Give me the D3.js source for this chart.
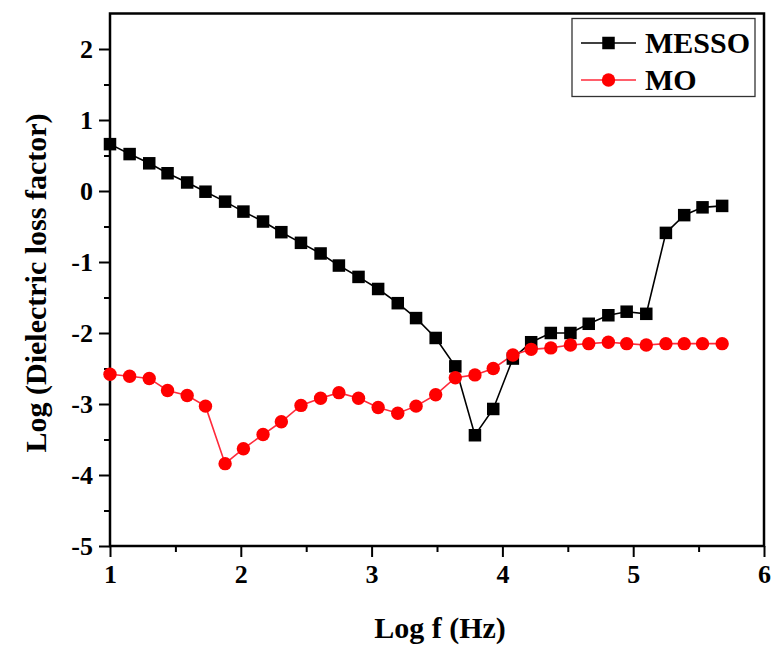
<!DOCTYPE html>
<html>
<head>
<meta charset="utf-8">
<script src="https://cdn.jsdelivr.net/npm/d3@7"></script>
<style>
html,body{margin:0;padding:0;background:#fff;}
svg{display:block;font-family:"Liberation Serif","Times New Roman",serif;font-weight:bold;}
.tick text{font-family:"Liberation Serif","Times New Roman",serif;font-weight:bold;font-size:26px;fill:#000;}
</style>
</head>
<body>
<svg id="chart" width="777" height="647"></svg>
<script>
const logF = [1.00,1.15,1.30,1.44,1.59,1.73,1.88,2.02,2.17,2.31,2.46,2.61,2.75,2.90,3.05,3.20,3.34,3.49,3.64,3.79,3.93,4.08,4.22,4.37,4.52,4.66,4.81,4.95,5.10,5.25,5.39,5.53,5.68];
const messo = [0.66,0.52,0.39,0.25,0.12,-0.01,-0.15,-0.29,-0.43,-0.58,-0.73,-0.88,-1.05,-1.21,-1.38,-1.58,-1.79,-2.07,-2.47,-3.44,-3.07,-2.36,-2.13,-2.00,-2.00,-1.87,-1.75,-1.70,-1.73,-0.59,-0.34,-0.23,-0.21];
const mo = [-2.58,-2.61,-2.64,-2.81,-2.88,-3.03,-3.84,-3.63,-3.43,-3.25,-3.02,-2.92,-2.84,-2.92,-3.05,-3.13,-3.03,-2.87,-2.63,-2.59,-2.50,-2.31,-2.23,-2.21,-2.17,-2.15,-2.13,-2.15,-2.17,-2.15,-2.15,-2.15,-2.15];
const xTicks = [1,2,3,4,5,6];
const yTicks = [-5,-4,-3,-2,-1,0,1,2];
const seriesNames = ["MESSO","MO"];

const svg = d3.select("#chart");
const L = 110, R = 764, T = 13.5, B = 546;
const x = d3.scaleLinear().domain([1,6]).range([L,R]);
const y = d3.scaleLinear().domain([-5,2.5]).range([B,T]);
const fmt = d => String(d);

// minor ticks
const xMinor = d3.range(1.5,6,1);
const yMinor = d3.range(-4.5,2.5,1);
svg.append("g").attr("transform",`translate(0,${B})`)
  .call(d3.axisBottom(x).tickValues(xMinor).tickSize(6).tickFormat(""))
  .call(g=>{g.select(".domain").remove();g.selectAll("line").attr("stroke","#000").attr("stroke-width",2);});
svg.append("g").attr("transform",`translate(${L},0)`)
  .call(d3.axisLeft(y).tickValues(yMinor).tickSize(6).tickFormat(""))
  .call(g=>{g.select(".domain").remove();g.selectAll("line").attr("stroke","#000").attr("stroke-width",2);});

// major axes
svg.append("g").attr("transform",`translate(0,${B})`)
  .call(d3.axisBottom(x).tickValues(xTicks).tickSize(11).tickPadding(8).tickFormat(fmt))
  .call(g=>{g.select(".domain").remove();
    g.selectAll("line").attr("stroke","#000").attr("stroke-width",2);});
svg.append("g").attr("transform",`translate(${L},0)`)
  .call(d3.axisLeft(y).tickValues(yTicks).tickSize(11).tickPadding(6).tickFormat(fmt))
  .call(g=>{g.select(".domain").remove();
    g.selectAll("line").attr("stroke","#000").attr("stroke-width",2);});

// frame
svg.append("rect").attr("x",L).attr("y",T).attr("width",R-L).attr("height",B-T)
  .attr("fill","none").attr("stroke","#000").attr("stroke-width",2.5);

// series
const line = d3.line().x((d,i)=>x(logF[i])).y(d=>y(d));
svg.append("path").datum(messo).attr("d",line).attr("fill","none").attr("stroke","#000").attr("stroke-width",1.6);
svg.append("path").datum(mo).attr("d",line).attr("fill","none").attr("stroke","#ff2a3a").attr("stroke-width",1.6);
const sq = 12.5;
svg.append("g").selectAll("rect").data(messo).join("rect")
  .attr("x",(d,i)=>x(logF[i])-sq/2).attr("y",d=>y(d)-sq/2).attr("width",sq).attr("height",sq).attr("fill","#000");
svg.append("g").selectAll("circle").data(mo).join("circle")
  .attr("cx",(d,i)=>x(logF[i])).attr("cy",d=>y(d)).attr("r",6.7).attr("fill","#ff0000");

// axis titles
svg.append("text").attr("x",(L+R)/2+3).attr("y",638).attr("text-anchor","middle")
  .attr("font-size",30).text("Log f (Hz)");
svg.append("text").attr("transform",`translate(46,283) rotate(-90)`).attr("text-anchor","middle")
  .attr("font-size",30).text("Log (Dielectric loss factor)");

// legend
const lg = svg.append("g");
lg.append("rect").attr("x",572).attr("y",18.5).attr("width",183).attr("height",78)
  .attr("fill","#fff").attr("stroke","#333").attr("stroke-width",1.3);
const rows = [43,80];
seriesNames.forEach((name,i)=>{
  const cy = rows[i];
  lg.append("line").attr("x1",581).attr("x2",636).attr("y1",cy).attr("y2",cy)
    .attr("stroke", i===0?"#000":"#ff2a3a").attr("stroke-width",1.6);
  if(i===0) lg.append("rect").attr("x",608.5-sq/2).attr("y",cy-sq/2).attr("width",sq).attr("height",sq).attr("fill","#000");
  else lg.append("circle").attr("cx",608.5).attr("cy",cy).attr("r",6.7).attr("fill","#ff0000");
  lg.append("text").attr("x",645).attr("y",cy+10).attr("font-size",30).attr("fill","#000").text(name);
});
</script>
</body>
</html>
